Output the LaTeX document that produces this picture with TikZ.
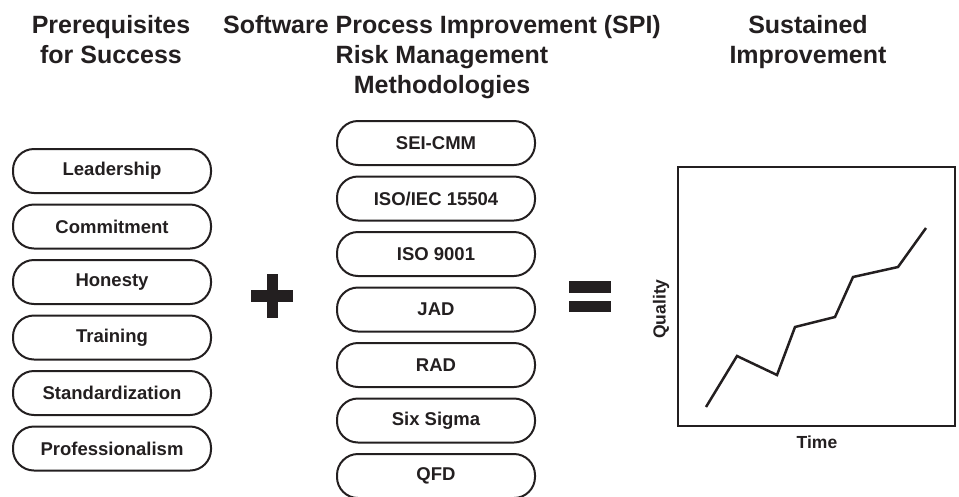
\documentclass[tikz,border=0pt]{standalone}
\usepackage{fontspec}
\setmainfont{Liberation Sans}
\usetikzlibrary{positioning}
\definecolor{ink}{HTML}{231F20}

\tikzstyle{pill}=[rectangle,draw=ink,line width=2pt,rounded corners=21pt,
minimum width=198pt,minimum height=44pt,text=ink,
font=\fontsize{18.5}{22}\selectfont\bfseries]
\tikzstyle{heading}=[align=center,text=ink,inner sep=0pt,anchor=base,
font=\fontsize{25}{30}\selectfont\bfseries]
\tikzstyle{axis} = [text=ink,font=\fontsize{17.5}{21}\selectfont\bfseries]
\tikzstyle{sign} = [fill=ink,draw=none]

\begin{document}
\begin{tikzpicture}[x=1pt,y=-1pt,node distance=55.5pt]
\useasboundingbox (0,0) rectangle (959,496);
% headings
\node [heading] (prereq) at (111,63) {Prerequisites\\for Success};
\node [heading] (spi) at (442,93) {Software Process Improvement (SPI)\\Risk Management\\Methodologies};
\node [heading] (sustain) at (808,63) {Sustained\\Improvement};
% prerequisites
\node [pill] (lead) at (112,171) {Leadership};
\node [pill,below of=lead] (commit) {Commitment};
\node [pill,below of=commit] (honest) {Honesty};
\node [pill,below of=honest] (train) {Training};
\node [pill,below of=train] (std) {Standardization};
\node [pill,below of=std] (prof) {Professionalism};
% methodologies
\node [pill] (sei) at (436,143) {SEI-CMM};
\node [pill,below of=sei] (iec) {ISO/IEC 15504};
\node [pill,below of=iec] (iso) {ISO 9001};
\node [pill,below of=iso] (jad) {JAD};
\node [pill,below of=jad] (rad) {RAD};
\node [pill,below of=rad] (sigma) {Six Sigma};
\node [pill,below of=sigma] (qfd) {QFD};
% plus and equals
\fill [sign] (251,290) rectangle (293,302);
\fill [sign] (266.5,274) rectangle (278,318);
\fill [sign] (569,281) rectangle (611,292.5);
\fill [sign] (569,300.5) rectangle (611,312);
% chart
\node [draw=ink,line width=2pt,minimum width=277pt,minimum height=259pt] (chart) at (816.5,296.5) {};
\node [axis,rotate=90] (quality) at (661,309) {Quality};
\node [axis] (time) at (817,442) {Time};
\draw [ink,line width=2.5pt] (706,407) -- (737,356) -- (777,375) -- (795,327) -- (835,317)
  -- (853,277) -- (898,267) -- (926,228);
\end{tikzpicture}
\end{document}
